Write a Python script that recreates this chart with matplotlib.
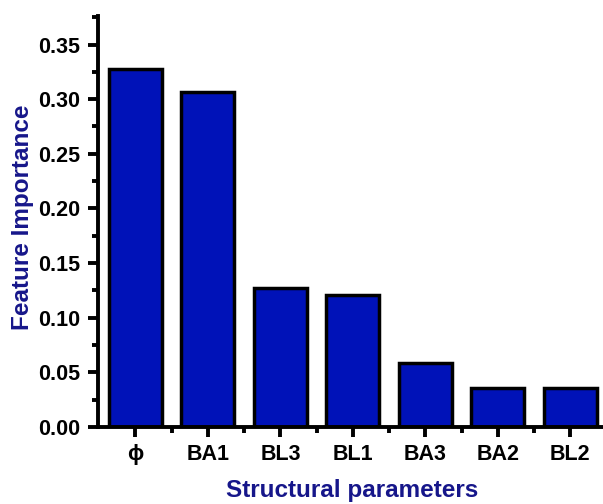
import numpy as np
import matplotlib.pyplot as plt

# feature importances of the structural parameters
params = ["ϕ", "BA1", "BL3", "BL1", "BA3", "BA2", "BL2"]
importance = [0.3275, 0.307, 0.127, 0.1205, 0.0585, 0.0357, 0.0357]

plt.rcParams['font.family'] = ['Liberation Sans', 'DejaVu Sans']
plt.rcParams['font.weight'] = 'bold'

fig = plt.figure(figsize=(6.03, 5.04), dpi=100)
ax = fig.add_axes([0.1625, 0.153, 0.8375, 0.815])

x = np.arange(len(params))
ax.bar(x, importance, width=0.73, color='#0012B8', edgecolor='black', linewidth=2.5)

ax.set_xlim(-0.517, 6.45)
ax.set_ylim(0, 0.376)
ax.set_yticks(np.arange(0, 0.36, 0.05))
ax.set_yticks(np.arange(0.025, 0.376, 0.05), minor=True)
ax.set_xticks(x)
ax.set_xticks(x[:-1] + 0.5, minor=True)
ax.set_xticklabels(params)
ax.yaxis.set_major_formatter(plt.FormatStrFormatter('%.2f'))

for s in ['top', 'right']:
    ax.spines[s].set_visible(False)
for s in ['left', 'bottom']:
    ax.spines[s].set_linewidth(2.8)

ax.tick_params(which='major', direction='out', length=7, width=2.8, labelsize=15.5)
ax.tick_params(which='minor', direction='out', length=4, width=2.8)
ax.tick_params(axis='y', pad=6)
ax.tick_params(axis='x', pad=5)

ax.set_xlabel("Structural parameters", fontsize=17.5, fontweight='bold', color='#16168A')
ax.set_ylabel("Feature Importance", fontsize=17.5, fontweight='bold', color='#16168A')
ax.xaxis.label.set_va('center')
ax.yaxis.label.set_va('center')
ax.xaxis.set_label_coords(0.504, -0.156)
ax.yaxis.set_label_coords(-0.150, 0.511)

fig.savefig("out.png", dpi=100)
